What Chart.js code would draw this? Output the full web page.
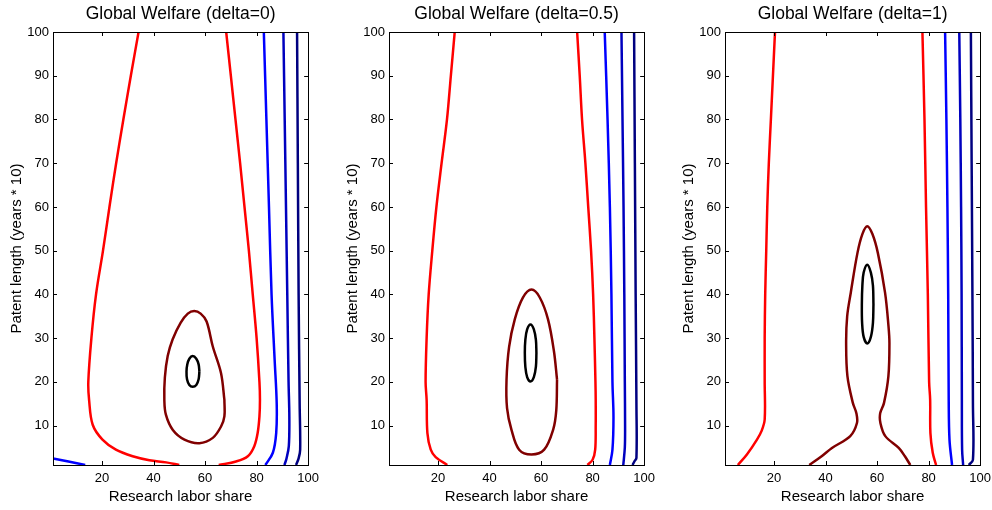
<!DOCTYPE html>
<html>
<head>
<meta charset="utf-8">
<script src="https://cdn.jsdelivr.net/npm/chart.js@4.4.1/dist/chart.umd.min.js"></script>
<style>
  body { margin: 0; background: #fff; width: 992px; height: 510px; overflow: hidden; position: relative; }
  .panel { position: absolute; top: 0; width: 325px; height: 510px; }
</style>
</head>
<body>
<div class="panel" style="left:0px"><canvas id="c0" width="325" height="510"></canvas></div>
<div class="panel" style="left:336px"><canvas id="c1" width="325" height="510"></canvas></div>
<div class="panel" style="left:672px"><canvas id="c2" width="325" height="510"></canvas></div>
<script>
// tick labels / titles
const xTicks = [20, 40, 60, 80, 100];
const yTicks = [10, 20, 30, 40, 50, 60, 70, 80, 90, 100];
const titles = ['Global Welfare (delta=0)', 'Global Welfare (delta=0.5)', 'Global Welfare (delta=1)'];
const xLabel = 'Research labor share';
const yLabel = 'Patent length (years * 10)';

// contour lines, [labor share, patent length]
// closed loops start on their right side so the seam stays smooth
// delta = 0
const d0RedLeft = [[34.2,100],[31.2,90],[28.3,80],[25.5,70],[22.9,60],[20.4,50],[17.7,40],[15.9,30],[14.7,20],[15.0,15.9],[16.4,10.2],[20.2,6.8],[25.4,4.5],[31.9,3.0],[38.4,2.1],[44.9,1.6],[50.0,1.0]];
const d0RedRight = [[65.3,1.0],[72.0,1.8],[76.6,3.0],[79.1,5.3],[80.4,8.3],[81.1,12.1],[81.3,16],[81.1,20],[80.0,30],[78.5,40],[77.0,50],[75.3,60],[73.6,70],[71.8,80],[70.0,90],[68.2,100]];
const d0Blue1 = [[82.8,100],[83.8,80],[84.8,60],[85.8,40],[87.0,25],[87.8,15],[87.6,8.3],[86.3,3.8],[83.4,1.0]];
const d0Blue2 = [[90.4,100],[90.9,80],[91.4,60],[91.9,40],[92.4,20],[92.7,12],[92.5,5.3],[91.6,2.5],[90.8,1.0]];
const d0Blue3 = [[95.7,100],[96.0,70],[96.3,40],[96.7,15],[96.9,4.5],[96.3,2.5],[95.3,1.0]];
const d0BlueLow = [[1.0,2.5],[7.0,1.8],[13.5,1.0]];
const d0DarkRed = [[67.5,15.9],[67.5,12.1],[66.2,9.8],[63.0,7.2],[57.8,6.0],[52.0,6.8],[47.5,9.0],[44.8,12.5],[44.2,15.9],[44.4,21.0],[45.5,25.9],[47.4,29.7],[50.5,33.5],[53.3,35.6],[55.8,36.2],[58.3,35.6],[60.6,33.8],[63.0,28.1],[66.2,22.0],[67.5,15.9]];
const d0Black = [[57.8,22.4],[57.5,20.6],[56.6,19.3],[55.2,18.9],[53.9,19.3],[53.0,20.6],[52.8,22.4],[53.1,24.0],[53.9,25.3],[55.2,25.9],[56.6,25.3],[57.5,24.0],[57.8,22.4]];

// delta = 0.5
const d1RedLeft = [[26.5,100],[25.0,90],[23.5,80],[21.4,70],[19.4,60],[17.8,50],[16.4,40],[15.6,30],[15.2,20],[15.6,15.9],[15.9,8.3],[17.2,4.5],[19.1,2.8],[23.6,1.0]];
const d1RedRight = [[78.0,1.0],[80.0,2.2],[81.0,4.5],[81.2,10],[81.2,15.9],[81.1,20],[80.7,30],[80.2,40],[79.4,50],[78.3,60],[77.2,70],[75.9,80],[75.0,90],[74.0,100]];
const d1Blue1 = [[84.7,100],[85.8,80],[86.7,60],[87.3,40],[87.7,20],[88.1,12],[87.7,4.5],[86.7,1.0]];
const d1Blue2 = [[91.2,100],[91.6,80],[92.0,60],[92.3,40],[92.5,20],[92.6,10],[92.5,5],[91.9,1.0]];
const d1Blue3 = [[96.1,100],[96.4,70],[96.7,40],[97.0,15],[97.0,2.6],[96.2,1.8],[95.5,1.0]];
const d1DarkRed = [[66.2,20.5],[65.9,13.5],[64.7,9.1],[61.2,4.5],[56.3,3.4],[51.5,4.5],[48.5,9.1],[46.8,14],[46.6,20.5],[47.6,28],[49.8,34.3],[53.0,39.3],[56.3,41.1],[59.5,39.3],[62.7,34.3],[65.0,27],[66.2,20.5]];
const d1Black = [[58.2,26.6],[58.0,23.5],[57.2,21.1],[55.9,20.1],[54.6,21.1],[53.9,23.5],[53.7,26.6],[53.9,29.6],[54.6,32.0],[55.9,33.1],[57.2,32.0],[58.0,29.6],[58.2,26.6]];

// delta = 1
const d2RedLeft = [[20.4,100],[19.6,90],[18.8,80],[18.0,70],[17.4,60],[17.0,50],[16.6,40],[16.4,30],[16.4,20],[16.4,11.4],[15.2,8.8],[13.4,6.8],[9.5,3.4],[6.0,1.0]];
const d2RedRight = [[82.9,1.0],[81.6,3.8],[80.7,8.3],[80.6,15.9],[80.2,20],[79.7,40],[79.0,60],[78.4,80],[77.6,100]];
const d2Blue1 = [[86.4,100],[86.9,80],[87.3,60],[87.6,40],[87.8,15.9],[88.1,6.8],[89.1,1.0]];
const d2Blue2 = [[91.9,100],[92.3,80],[92.6,60],[92.8,40],[92.9,15.9],[93.0,4.5],[93.4,1.0]];
const d2Blue3 = [[96.4,100],[96.7,70],[97.0,40],[97.2,15],[97.2,2.2],[95.6,1.0]];
const d2DarkRed = [[33.7,1.0],[38.5,3.0],[42.5,4.9],[49.6,7.6],[52.2,10.6],[52.0,12.8],[50.6,15.2],[48.5,21.3],[48.0,28.9],[48.4,35],[49.8,40.4],[52.4,49.5],[54.3,53.8],[56.2,55.6],[58.2,53.8],[60.3,49.5],[63.1,40.4],[64.4,33],[64.8,28.9],[64.4,21.3],[62.7,15.2],[61.2,12.8],[61.3,10.6],[63.2,7.6],[68.4,4.9],[70.8,3.0],[72.9,1.0]];
const d2Black = [[58.6,37.7],[58.4,33.5],[57.6,30.3],[56.2,28.8],[54.8,30.3],[54.2,33.5],[54.1,37.7],[54.3,42],[54.8,45.0],[56.2,46.8],[57.6,45.0],[58.4,42],[58.6,37.7]];

const RED = '#ff0000', DARKRED = '#800000', BLACK = '#000000';
const BLUE1 = '#0000ff', BLUE2 = '#0000bf', BLUE3 = '#000080';

const panels = [
  [[d0RedLeft, RED], [d0RedRight, RED], [d0Blue1, BLUE1], [d0Blue2, BLUE2], [d0Blue3, BLUE3], [d0BlueLow, BLUE1], [d0DarkRed, DARKRED], [d0Black, BLACK]],
  [[d1RedLeft, RED], [d1RedRight, RED], [d1Blue1, BLUE1], [d1Blue2, BLUE2], [d1Blue3, BLUE3], [d1DarkRed, DARKRED], [d1Black, BLACK]],
  [[d2RedLeft, RED], [d2RedRight, RED], [d2Blue1, BLUE1], [d2Blue2, BLUE2], [d2Blue3, BLUE3], [d2DarkRed, DARKRED], [d2Black, BLACK]]
];

const FONT = "'Liberation Sans', Arial, sans-serif";

// matlab style box with inward ticks
const boxTicks = {
  id: 'boxTicks',
  afterDatasetsDraw(chart) {
    const { ctx, chartArea: a, scales } = chart;
    ctx.save();
    ctx.strokeStyle = '#000';
    ctx.lineWidth = 1;
    ctx.strokeRect(Math.round(a.left) + 0.5, Math.round(a.top) + 0.5, Math.round(a.width), Math.round(a.height));
    ctx.beginPath();
    xTicks.forEach(v => {
      const px = Math.round(scales.x.getPixelForValue(v)) + 0.5;
      ctx.moveTo(px, a.bottom); ctx.lineTo(px, a.bottom - 4);
      ctx.moveTo(px, a.top); ctx.lineTo(px, a.top + 4);
    });
    yTicks.forEach(v => {
      const py = Math.round(scales.y.getPixelForValue(v)) + 0.5;
      ctx.moveTo(a.left, py); ctx.lineTo(a.left + 4, py);
      ctx.moveTo(a.right, py); ctx.lineTo(a.right - 4, py);
    });
    ctx.stroke();
    ctx.restore();
  }
};

function makeChart(id, lines, title) {
  const datasets = lines.map(([pts, color]) => ({
    data: pts.map(([x, y]) => ({ x, y })),
    borderColor: color,
    borderWidth: 2.5,
    showLine: true,
    pointRadius: 0,
    tension: 0.35,
    fill: false
  }));
  return new Chart(document.getElementById(id), {
    type: 'scatter',
    data: { datasets },
    plugins: [boxTicks],
    options: {
      responsive: false,
      devicePixelRatio: 1,
      animation: false,
      layout: { padding: 0 },
      plugins: {
        legend: { display: false },
        tooltip: { enabled: false },
        title: {
          display: true, text: title, fullSize: false, color: '#000',
          font: { family: FONT, size: 17.5, weight: 'normal' },
          padding: { top: 4, bottom: 7 }
        }
      },
      scales: {
        x: {
          type: 'linear', min: 1, max: 100,
          afterBuildTicks: s => { s.ticks = xTicks.map(v => ({ value: v })); },
          afterFit: s => { s.height = 45; },
          grid: { display: false, drawTicks: false },
          border: { display: false },
          ticks: { color: '#000', padding: 6, maxRotation: 0, font: { family: FONT, size: 13 } },
          title: { display: true, text: xLabel, color: '#000', font: { family: FONT, size: 15 }, padding: { top: 0, bottom: 4 } }
        },
        y: {
          type: 'linear', min: 1, max: 100,
          afterBuildTicks: s => { s.ticks = yTicks.map(v => ({ value: v })); },
          afterFit: s => { s.width = 53; },
          grid: { display: false, drawTicks: false },
          border: { display: false },
          ticks: { color: '#000', padding: 4, font: { family: FONT, size: 13 } },
          title: { display: true, text: yLabel, color: '#000', font: { family: FONT, size: 15 }, padding: { top: 8, bottom: 0 } }
        }
      }
    }
  });
}

panels.forEach((lines, i) => makeChart('c' + i, lines, titles[i]));
</script>
</body>
</html>
